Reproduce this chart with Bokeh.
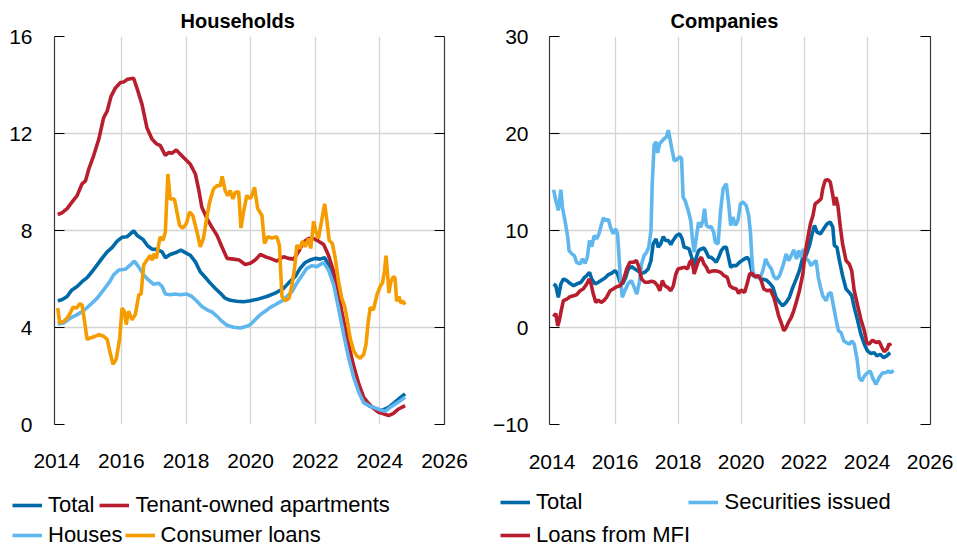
from bokeh.plotting import figure
from bokeh.models import Range1d, FixedTicker, LinearAxis, Legend, LegendItem
from bokeh.layouts import row, column
from bokeh.embed import file_html
from bokeh.resources import INLINE

FONT = "Liberation Sans"

X_TICKS = [2014, 2016, 2018, 2020, 2022, 2024, 2026]
X_GRID = [2016, 2018, 2020, 2022, 2024]
HH_Y_TICKS = [0, 4, 8, 12, 16]
CO_Y_TICKS = [-10, 0, 10, 20, 30]

# ---------------- Households ----------------
hh_total_t = [2014.03, 2014.16, 2014.32, 2014.47, 2014.63, 2014.78, 2014.94, 2015.09, 2015.25, 2015.40,
              2015.56, 2015.71, 2015.87, 2016.02, 2016.17, 2016.38, 2016.50, 2016.67, 2016.81, 2016.95,
              2017.10, 2017.26, 2017.36, 2017.51, 2017.67, 2017.84, 2017.98, 2018.13, 2018.29, 2018.44,
              2018.60, 2018.75, 2018.90, 2019.06, 2019.21, 2019.37, 2019.57, 2019.78, 2019.99, 2020.25,
              2020.50, 2020.76, 2021.00, 2021.17, 2021.38, 2021.53, 2021.69, 2021.84, 2022.00, 2022.15,
              2022.29, 2022.41, 2022.57, 2022.72, 2022.88, 2023.03, 2023.19, 2023.35, 2023.50, 2023.66,
              2023.80, 2023.96, 2024.11, 2024.27, 2024.42, 2024.58, 2024.78]
hh_total_v = [5.10, 5.14, 5.28, 5.55, 5.69, 5.89, 6.06, 6.30, 6.58, 6.85,
              7.12, 7.29, 7.56, 7.72, 7.74, 7.98, 7.78, 7.63, 7.37, 7.23,
              7.22, 7.12, 6.88, 7.01, 7.08, 7.19, 7.09, 6.98, 6.71, 6.30,
              6.06, 5.83, 5.62, 5.42, 5.21, 5.12, 5.08, 5.06, 5.10, 5.18,
              5.28, 5.42, 5.59, 5.83, 6.10, 6.44, 6.68, 6.78, 6.85, 6.82,
              6.88, 6.58, 5.89, 4.94, 3.85, 2.89, 2.00, 1.39, 0.91, 0.78,
              0.68, 0.60, 0.61, 0.71, 0.87, 1.05, 1.26]

hh_tenant_t = [2014.03, 2014.16, 2014.32, 2014.47, 2014.63, 2014.78, 2014.89, 2014.99, 2015.14, 2015.30,
               2015.45, 2015.56, 2015.68, 2015.81, 2015.97, 2016.07, 2016.19, 2016.38, 2016.50, 2016.64,
               2016.79, 2016.95, 2017.10, 2017.20, 2017.36, 2017.46, 2017.57, 2017.70, 2017.82, 2017.98,
               2018.13, 2018.29, 2018.39, 2018.49, 2018.65, 2018.80, 2018.96, 2019.11, 2019.27, 2019.47,
               2019.65, 2019.83, 2019.99, 2020.14, 2020.30, 2020.45, 2020.61, 2020.81, 2021.02, 2021.17,
               2021.33, 2021.48, 2021.64, 2021.79, 2021.95, 2022.10, 2022.26, 2022.41, 2022.57, 2022.72,
               2022.88, 2023.03, 2023.19, 2023.35, 2023.50, 2023.66, 2023.80, 2023.96, 2024.11, 2024.27,
               2024.42, 2024.58, 2024.78]
hh_tenant_v = [8.66, 8.73, 8.90, 9.17, 9.44, 9.92, 10.05, 10.53, 11.08, 11.76,
               12.65, 12.92, 13.53, 13.87, 14.10, 14.12, 14.24, 14.28, 13.80, 13.19,
               12.24, 11.76, 11.56, 11.51, 11.10, 11.21, 11.19, 11.32, 11.15, 10.94,
               10.74, 10.33, 9.71, 8.96, 8.49, 8.14, 7.80, 7.33, 6.85, 6.82,
               6.78, 6.60, 6.65, 6.78, 7.01, 6.92, 6.85, 6.74, 6.92, 6.85,
               6.82, 7.12, 7.53, 7.67, 7.67, 7.56, 7.42, 6.98, 6.30, 5.35,
               4.26, 3.30, 2.41, 1.66, 1.12, 0.85, 0.68, 0.50, 0.44, 0.37,
               0.46, 0.64, 0.78]

hh_houses_t = [2014.03, 2014.22, 2014.42, 2014.63, 2014.83, 2015.04, 2015.25, 2015.45, 2015.64, 2015.76,
               2015.92, 2016.12, 2016.28, 2016.40, 2016.53, 2016.69, 2016.84, 2017.00, 2017.15, 2017.26,
               2017.36, 2017.51, 2017.67, 2017.82, 2018.03, 2018.18, 2018.34, 2018.49, 2018.65, 2018.80,
               2018.96, 2019.11, 2019.27, 2019.47, 2019.68, 2019.88, 2019.99, 2020.14, 2020.30, 2020.45,
               2020.61, 2020.76, 2020.97, 2021.12, 2021.28, 2021.43, 2021.59, 2021.74, 2021.90, 2022.05,
               2022.26, 2022.41, 2022.57, 2022.72, 2022.88, 2023.03, 2023.19, 2023.35, 2023.50, 2023.66,
               2023.86, 2024.01, 2024.17, 2024.32, 2024.48, 2024.63, 2024.78]
hh_houses_v = [4.15, 4.19, 4.39, 4.53, 4.69, 4.94, 5.21, 5.55, 5.89, 6.17,
               6.37, 6.40, 6.58, 6.74, 6.51, 6.17, 5.96, 5.78, 5.83, 5.69,
               5.38, 5.35, 5.38, 5.35, 5.38, 5.28, 5.08, 4.87, 4.73, 4.64,
               4.46, 4.26, 4.09, 4.01, 3.98, 4.05, 4.12, 4.32, 4.53, 4.67,
               4.83, 4.94, 5.10, 5.28, 5.48, 5.83, 6.14, 6.44, 6.55, 6.51,
               6.68, 6.37, 5.76, 4.80, 3.71, 2.76, 1.94, 1.32, 0.91, 0.78,
               0.68, 0.60, 0.55, 0.71, 0.85, 0.98, 1.12]

hh_consumer_t = [2014.03, 2014.09, 2014.22, 2014.32, 2014.42, 2014.50, 2014.61, 2014.71, 2014.78, 2014.83,
                 2014.94, 2015.04, 2015.20, 2015.30, 2015.45, 2015.56, 2015.64, 2015.74, 2015.84, 2015.95,
                 2016.02, 2016.09, 2016.15, 2016.22, 2016.33, 2016.43, 2016.54, 2016.61, 2016.69, 2016.79,
                 2016.90, 2016.95, 2017.02, 2017.08, 2017.15, 2017.20, 2017.29, 2017.36, 2017.44, 2017.51,
                 2017.64, 2017.72, 2017.80, 2017.90, 2018.01, 2018.11, 2018.21, 2018.34, 2018.44, 2018.54,
                 2018.63, 2018.73, 2018.85, 2018.96, 2019.06, 2019.12, 2019.21, 2019.29, 2019.37, 2019.45,
                 2019.53, 2019.63, 2019.70, 2019.78, 2019.88, 2019.96, 2020.02, 2020.12, 2020.22, 2020.35,
                 2020.43, 2020.53, 2020.66, 2020.81, 2020.89, 2020.97, 2021.07, 2021.19, 2021.28, 2021.36,
                 2021.43, 2021.53, 2021.60, 2021.69, 2021.79, 2021.86, 2021.95, 2022.02, 2022.10, 2022.18,
                 2022.29, 2022.36, 2022.43, 2022.53, 2022.62, 2022.72, 2022.82, 2022.91, 2022.98, 2023.08,
                 2023.19, 2023.29, 2023.39, 2023.50, 2023.57, 2023.63, 2023.70, 2023.80, 2023.91, 2024.01,
                 2024.08, 2024.14, 2024.19, 2024.24, 2024.28, 2024.34, 2024.42, 2024.47, 2024.52, 2024.59,
                 2024.65, 2024.72, 2024.78]
hh_consumer_v = [4.80, 4.19, 4.26, 4.39, 4.60, 4.83, 4.80, 4.97, 4.94, 4.53,
                 3.51, 3.57, 3.64, 3.71, 3.64, 3.51, 3.03, 2.48, 2.69, 3.57,
                 4.80, 4.67, 4.12, 4.67, 4.32, 4.53, 5.35, 5.38, 6.58, 6.78,
                 6.98, 6.78, 7.05, 6.85, 7.39, 7.74, 7.60, 7.94, 10.33, 9.30,
                 9.30, 8.76, 8.21, 8.10, 8.28, 8.76, 8.62, 7.94, 7.33, 7.67,
                 8.42, 9.17, 9.71, 9.85, 9.85, 10.23, 9.65, 9.44, 9.65, 9.30,
                 9.58, 9.60, 8.10, 8.76, 9.44, 9.33, 9.37, 9.78, 8.90, 8.62,
                 7.46, 7.74, 7.69, 7.74, 7.39, 5.28, 5.10, 5.21, 5.76, 6.44,
                 7.39, 7.26, 7.56, 7.33, 7.67, 7.26, 8.38, 7.94, 7.67, 8.28,
                 9.10, 8.42, 7.60, 7.46, 6.85, 5.89, 5.21, 4.87, 4.39, 3.57,
                 3.03, 2.82, 2.73, 2.89, 3.30, 4.12, 4.83, 4.73, 5.35, 5.69,
                 5.83, 6.30, 6.96, 6.17, 5.42, 5.89, 6.10, 6.03, 5.08, 5.28,
                 5.01, 5.08, 4.94]

# ---------------- Companies ----------------
co_total_t = [2014.05, 2014.12, 2014.20, 2014.28, 2014.36, 2014.47, 2014.57, 2014.68, 2014.78, 2014.92,
              2015.03, 2015.10, 2015.19, 2015.26, 2015.37, 2015.47, 2015.58, 2015.68, 2015.79, 2015.89,
              2016.00, 2016.08, 2016.16, 2016.24, 2016.34, 2016.42, 2016.52, 2016.63, 2016.74, 2016.84,
              2016.95, 2017.05, 2017.14, 2017.21, 2017.30, 2017.37, 2017.45, 2017.53, 2017.60, 2017.69,
              2017.77, 2017.84, 2017.95, 2018.05, 2018.13, 2018.19, 2018.27, 2018.35, 2018.43, 2018.51,
              2018.58, 2018.65, 2018.74, 2018.82, 2018.90, 2018.97, 2019.05, 2019.14, 2019.21, 2019.29,
              2019.37, 2019.46, 2019.53, 2019.60, 2019.67, 2019.74, 2019.85, 2019.95, 2020.06, 2020.19,
              2020.27, 2020.37, 2020.48, 2020.64, 2020.80, 2020.93, 2021.01, 2021.11, 2021.22, 2021.32,
              2021.43, 2021.53, 2021.64, 2021.75, 2021.85, 2021.96, 2022.06, 2022.17, 2022.24, 2022.33,
              2022.41, 2022.52, 2022.62, 2022.73, 2022.83, 2022.91, 2022.96, 2023.04, 2023.12, 2023.22,
              2023.33, 2023.43, 2023.51, 2023.59, 2023.70, 2023.80, 2023.91, 2024.01, 2024.12, 2024.22,
              2024.31, 2024.41, 2024.52, 2024.62, 2024.73]
co_total_v = [4.48, 4.31, 3.10, 4.48, 5.00, 4.83, 4.55, 4.31, 4.48, 4.66,
              5.17, 5.34, 5.69, 5.00, 4.48, 4.66, 4.90, 5.10, 5.45, 5.59,
              5.86, 5.52, 4.66, 4.48, 5.17, 6.03, 6.28, 6.03, 5.79, 5.59,
              5.69, 6.03, 6.90, 8.62, 9.14, 8.28, 8.62, 9.38, 8.97, 8.97,
              8.55, 8.97, 9.48, 9.66, 9.14, 8.28, 8.21, 8.10, 7.24, 6.38,
              7.24, 7.93, 8.10, 8.21, 7.76, 7.24, 7.24, 6.97, 6.72, 7.24,
              7.93, 8.28, 8.28, 7.24, 6.21, 6.38, 6.38, 6.72, 6.97, 7.24,
              6.90, 5.34, 5.34, 5.00, 4.90, 4.48, 4.14, 3.10, 2.59, 2.24,
              2.59, 3.10, 4.14, 5.00, 5.86, 7.24, 7.41, 8.45, 9.48, 10.52,
              9.83, 9.66, 10.17, 10.69, 10.86, 10.34, 8.45, 8.28, 6.90, 5.34,
              3.97, 3.62, 3.28, 2.07, 0.69, -0.69, -1.72, -2.41, -2.69, -2.59,
              -2.93, -2.76, -3.10, -2.93, -2.59]

co_securities_t = [2014.05, 2014.12, 2014.20, 2014.28, 2014.33, 2014.41, 2014.50, 2014.54, 2014.63, 2014.71,
                   2014.78, 2014.89, 2014.97, 2015.05, 2015.12, 2015.19, 2015.26, 2015.34, 2015.42, 2015.49,
                   2015.56, 2015.63, 2015.70, 2015.79, 2015.87, 2015.94, 2016.02, 2016.08, 2016.16, 2016.23,
                   2016.31, 2016.42, 2016.52, 2016.61, 2016.69, 2016.77, 2016.84, 2016.92, 2017.00, 2017.07,
                   2017.14, 2017.18, 2017.24, 2017.30, 2017.35, 2017.42, 2017.50, 2017.56, 2017.63, 2017.69,
                   2017.75, 2017.81, 2017.88, 2017.96, 2018.05, 2018.11, 2018.16, 2018.23, 2018.32, 2018.40,
                   2018.45, 2018.51, 2018.58, 2018.65, 2018.72, 2018.79, 2018.84, 2018.90, 2018.97, 2019.05,
                   2019.13, 2019.18, 2019.27, 2019.35, 2019.43, 2019.53, 2019.60, 2019.67, 2019.74, 2019.82,
                   2019.90, 2019.98, 2020.06, 2020.16, 2020.24, 2020.30, 2020.34, 2020.38, 2020.45, 2020.53,
                   2020.62, 2020.69, 2020.78, 2020.85, 2020.96, 2021.04, 2021.13, 2021.22, 2021.33, 2021.43,
                   2021.51, 2021.59, 2021.67, 2021.76, 2021.83, 2021.90, 2021.98, 2022.06, 2022.14, 2022.22,
                   2022.31, 2022.38, 2022.45, 2022.52, 2022.59, 2022.70, 2022.77, 2022.85, 2022.94, 2023.01,
                   2023.09, 2023.17, 2023.26, 2023.34, 2023.44, 2023.51, 2023.59, 2023.68, 2023.75, 2023.83,
                   2023.91, 2024.01, 2024.10, 2024.17, 2024.28, 2024.38, 2024.49, 2024.59, 2024.67, 2024.75,
                   2024.84]
co_securities_v = [14.20, 13.10, 12.07, 14.20, 12.40, 11.03, 9.31, 7.93, 7.59, 7.41,
                   6.72, 6.55, 7.07, 6.62, 7.24, 8.97, 8.34, 9.48, 9.14, 9.66,
                   10.52, 11.31, 11.03, 11.14, 10.17, 9.66, 10.17, 9.66, 5.52, 3.10,
                   3.79, 4.55, 4.83, 4.14, 3.45, 4.66, 6.55, 7.41, 7.76, 8.28,
                   10.00, 14.83, 18.79, 19.14, 18.00, 18.97, 19.24, 19.48, 19.66, 20.34,
                   19.31, 18.28, 17.17, 17.31, 17.59, 17.41, 13.45, 13.03, 12.07, 11.03,
                   9.31, 7.76, 9.31, 10.86, 10.34, 11.03, 12.24, 10.52, 10.34, 10.41,
                   9.83, 8.79, 8.62, 12.07, 14.31, 14.83, 12.93, 10.52, 11.38, 10.52,
                   11.03, 12.76, 12.93, 12.59, 11.55, 9.66, 7.24, 5.69, 5.17, 5.17,
                   5.24, 5.86, 7.07, 6.55, 6.03, 5.24, 5.00, 5.34, 6.38, 7.59,
                   6.90, 7.41, 8.00, 7.07, 7.93, 7.24, 8.10, 7.07, 6.90, 6.38,
                   6.72, 6.90, 5.17, 4.14, 3.28, 2.76, 3.45, 3.62, 2.07, 0.86,
                   -0.34, -0.52, -1.38, -1.55, -1.72, -1.38, -1.72, -3.28, -5.17, -5.52,
                   -5.00, -4.66, -4.48, -5.17, -5.86, -5.17, -4.66, -4.66, -4.48, -4.66,
                   -4.41]

co_mfi_t = [2014.05, 2014.12, 2014.18, 2014.23, 2014.29, 2014.36, 2014.47, 2014.57, 2014.68, 2014.78,
            2014.89, 2014.99, 2015.10, 2015.18, 2015.24, 2015.31, 2015.39, 2015.47, 2015.56, 2015.64,
            2015.73, 2015.84, 2015.94, 2016.05, 2016.16, 2016.26, 2016.37, 2016.47, 2016.58, 2016.68,
            2016.76, 2016.84, 2016.95, 2017.05, 2017.16, 2017.26, 2017.35, 2017.42, 2017.50, 2017.58,
            2017.67, 2017.77, 2017.85, 2017.93, 2018.00, 2018.11, 2018.21, 2018.30, 2018.37, 2018.44,
            2018.51, 2018.58, 2018.65, 2018.74, 2018.82, 2018.90, 2018.97, 2019.05, 2019.16, 2019.27,
            2019.35, 2019.46, 2019.56, 2019.64, 2019.74, 2019.85, 2019.92, 2020.00, 2020.11, 2020.19,
            2020.27, 2020.34, 2020.45, 2020.56, 2020.64, 2020.72, 2020.83, 2020.93, 2021.04, 2021.11,
            2021.19, 2021.27, 2021.36, 2021.43, 2021.50, 2021.59, 2021.67, 2021.75, 2021.85, 2021.96,
            2022.03, 2022.12, 2022.20, 2022.28, 2022.35, 2022.43, 2022.54, 2022.59, 2022.67, 2022.75,
            2022.83, 2022.91, 2022.96, 2023.01, 2023.07, 2023.15, 2023.22, 2023.33, 2023.43, 2023.51,
            2023.59, 2023.70, 2023.80, 2023.91, 2023.99, 2024.06, 2024.17, 2024.28, 2024.38, 2024.47,
            2024.54, 2024.63, 2024.70, 2024.75]
co_mfi_v = [1.10, 1.45, 0.17, 0.69, 1.72, 2.76, 2.93, 3.17, 3.28, 3.38,
            3.79, 3.97, 4.48, 5.00, 4.48, 3.45, 2.59, 2.83, 2.59, 2.76,
            3.10, 3.79, 3.97, 4.21, 4.31, 4.83, 6.03, 6.72, 6.72, 6.90,
            6.21, 5.00, 4.66, 4.66, 4.76, 4.66, 4.31, 3.79, 4.83, 4.31,
            4.14, 3.79, 4.31, 5.52, 6.03, 6.14, 6.21, 6.03, 6.72, 6.97,
            5.52, 6.21, 6.90, 7.24, 6.55, 6.21, 5.69, 5.79, 5.86, 5.79,
            5.69, 5.34, 5.17, 4.31, 4.07, 3.97, 3.52, 3.86, 3.62, 4.48,
            5.52, 5.59, 5.24, 5.34, 4.83, 3.97, 3.79, 3.86, 3.10, 2.24,
            1.21, 0.52, -0.34, 0.00, 0.52, 1.03, 1.72, 2.59, 3.79, 5.52,
            7.59, 9.31, 10.69, 11.55, 12.76, 12.93, 13.28, 14.31, 15.17, 15.24,
            15.00, 13.62, 12.59, 13.45, 12.59, 10.34, 8.62, 6.90, 6.55, 5.86,
            3.79, 2.24, 0.86, -0.34, -1.55, -1.72, -1.31, -1.55, -1.45, -2.07,
            -2.48, -2.24, -1.66, -1.90]

C_TOTAL = "#006aa8"
C_LIGHT = "#5fb7ee"
C_RED = "#b81f2e"
C_ORANGE = "#f59d00"
LW = 3.6


def make_fig(width, height, bl, br, bt, bb, xr, yr, yticks, title, title_offset, xstand, ystand):
    p = figure(width=width, height=height, output_backend="svg", toolbar_location=None, tools="",
               x_range=Range1d(*xr), y_range=Range1d(*yr),
               min_border_left=bl, min_border_right=br, min_border_top=bt, min_border_bottom=bb)
    p.outline_line_color = None
    p.background_fill_color = "white"
    p.border_fill_color = "white"

    xa = p.xaxis[0]
    xa.ticker = FixedTicker(ticks=X_TICKS)
    xa.axis_line_color = None
    xa.major_tick_line_color = None
    xa.minor_tick_line_color = None
    xa.major_tick_in = 0
    xa.major_tick_out = 0
    xa.major_label_text_font = FONT
    xa.major_label_text_font_size = "21px"
    xa.major_label_text_color = "black"
    xa.major_label_standoff = xstand

    ya = p.yaxis[0]
    ya.ticker = FixedTicker(ticks=yticks)
    ya.axis_line_color = "#3a3a3a"
    ya.axis_line_width = 1.2
    ya.major_tick_in = 10
    ya.major_tick_out = 0
    ya.major_tick_line_color = "black"
    ya.major_tick_line_width = 1.2
    ya.minor_tick_line_color = None
    ya.major_label_text_font = FONT
    ya.major_label_text_font_size = "21px"
    ya.major_label_text_color = "black"
    ya.major_label_standoff = ystand

    ra = LinearAxis(ticker=FixedTicker(ticks=yticks), axis_line_color="#3a3a3a", axis_line_width=1.2,
                    major_tick_in=10, major_tick_out=0, major_tick_line_color="black",
                    major_tick_line_width=1.2, minor_tick_line_color=None,
                    major_label_text_font_size="0px", major_label_text_alpha=0, major_label_standoff=0)
    p.add_layout(ra, "right")

    p.xgrid.ticker = FixedTicker(ticks=X_GRID)
    p.ygrid.ticker = FixedTicker(ticks=yticks)
    p.xgrid.grid_line_color = "#d4d4d4"
    p.ygrid.grid_line_color = "#d4d4d4"
    p.xgrid.grid_line_width = 1.3
    p.ygrid.grid_line_width = 1.3

    p.title.text = title
    p.title.text_font = FONT
    p.title.text_font_size = "20px"
    p.title.text_font_style = "bold"
    p.title.text_color = "black"
    p.title.align = "left"
    p.title.offset = title_offset
    p.title.standoff = 10
    return p


def legend_fig(width, height):
    f = figure(width=width, height=height, output_backend="svg", toolbar_location=None, tools="",
               x_axis_type=None, y_axis_type=None, x_range=Range1d(0, 1), y_range=Range1d(0, 1),
               min_border=0, title=None)
    f.outline_line_color = None
    f.background_fill_color = "white"
    f.border_fill_color = "white"
    return f


def add_legend(p, items, loc, spacing):
    leg = Legend(items=items, location=loc, orientation="horizontal", spacing=spacing,
                 padding=0, margin=0, border_line_color=None, background_fill_alpha=0,
                 label_text_font=FONT, label_text_font_size="22px", label_text_color="black",
                 glyph_width=30, glyph_height=20, label_standoff=6, label_height=20)
    p.add_layout(leg)


# hidden sample renderers for the legend strips (outside the visible 0..1 range)
KEY_X = [-5, -4]
KEY_Y = [-5, -4]

# Left figure: Households
p1 = make_fig(480, 480, 54, 36, 36, 53, (2013.93, 2026.0), (0, 16), HH_Y_TICKS, "Households", 126, 29, 22)
p1.line(hh_total_t, hh_total_v, line_color=C_TOTAL, line_width=LW)
p1.line(hh_tenant_t, hh_tenant_v, line_color=C_RED, line_width=LW)
p1.line(hh_houses_t, hh_houses_v, line_color=C_LIGHT, line_width=LW)
p1.line(hh_consumer_t, hh_consumer_v, line_color=C_ORANGE, line_width=LW)

# Right figure: Companies
p2 = make_fig(477, 480, 69, 27, 36, 56, (2013.92, 2026.01), (-10, 30), CO_Y_TICKS, "Companies", 121, 30, 21)
p2.line(co_total_t, co_total_v, line_color=C_TOTAL, line_width=LW)
p2.line(co_securities_t, co_securities_v, line_color=C_LIGHT, line_width=LW)
p2.line(co_mfi_t, co_mfi_v, line_color=C_RED, line_width=LW)

# Legend strips below each chart
l1 = legend_fig(480, 68)
g_tot = l1.line(KEY_X, KEY_Y, line_color=C_TOTAL, line_width=LW)
g_ten = l1.line(KEY_X, KEY_Y, line_color=C_RED, line_width=LW)
g_hou = l1.line(KEY_X, KEY_Y, line_color=C_LIGHT, line_width=LW)
g_con = l1.line(KEY_X, KEY_Y, line_color=C_ORANGE, line_width=LW)
add_legend(l1, [LegendItem(label="Total", renderers=[g_tot]),
                LegendItem(label="Tenant-owned apartments", renderers=[g_ten])], (12, 30), 5)
add_legend(l1, [LegendItem(label="Houses", renderers=[g_hou]),
                LegendItem(label="Consumer loans", renderers=[g_con])], (12, 0), 2)

l2 = legend_fig(477, 68)
h_tot = l2.line(KEY_X, KEY_Y, line_color=C_TOTAL, line_width=LW)
h_sec = l2.line(KEY_X, KEY_Y, line_color=C_LIGHT, line_width=LW)
h_mfi = l2.line(KEY_X, KEY_Y, line_color=C_RED, line_width=LW)
add_legend(l2, [LegendItem(label="Total", renderers=[h_tot]),
                LegendItem(label="Securities issued", renderers=[h_sec])], (20, 33), 106)
add_legend(l2, [LegendItem(label="Loans from MFI", renderers=[h_mfi])], (20, 0), 5)

layout = column(row(p1, p2), row(l1, l2))
open("out.html", "w").write(file_html(layout, INLINE))
